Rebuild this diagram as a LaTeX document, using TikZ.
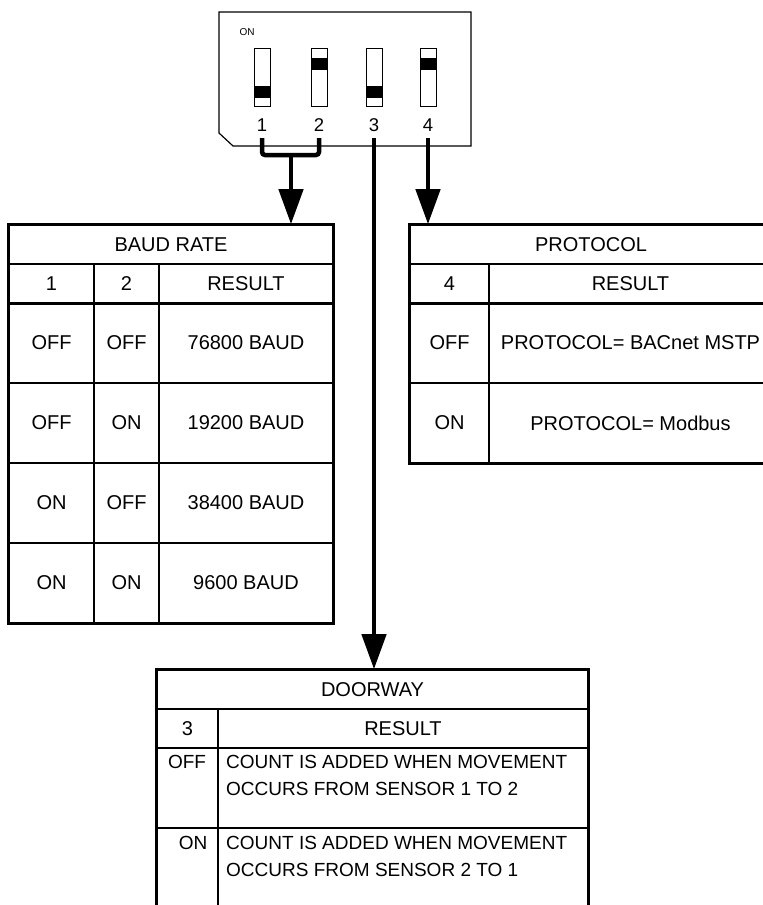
\documentclass[tikz,border=0pt]{standalone}
\usepackage{fontspec}
\setmainfont{Liberation Sans}
\usetikzlibrary{arrows.meta, calc}

\begin{document}
\begin{tikzpicture}[
        x=1pt, y=-1pt,
        cell/.style={rectangle, draw=black, line width=1.6pt, inner sep=0pt, font=\fontsize{20}{24}\selectfont},
        hdr/.style={cell, minimum height=39pt},
        datarow/.style={cell, minimum height=80pt},
        tblborder/.style={line width=2.8pt, draw=black},
        slot/.style={rectangle, draw=black, line width=1pt, minimum width=16pt, minimum height=58pt, inner sep=0pt},
        knob/.style={fill=black},
        pin/.style={font=\fontsize{18.5}{20}\selectfont, inner sep=0pt},
        note/.style={font=\fontsize{19}{27}\selectfont, align=left, inner sep=0pt},
        wire/.style={line width=4.5pt, rounded corners=3pt},
        feed/.style={-{Triangle[length=35pt, width=24pt]}}
    ]
        \useasboundingbox (0,0) rectangle (763,905);
        \clip (0,0) rectangle (763,905);

        % ----------------------------------------------------
        % DIP SWITCH
        % ----------------------------------------------------
        \draw[line width=1.2pt] (219,12) -- (471,12) -- (471,146) -- (233,146) -- (219,133) -- cycle;
        \node[font=\fontsize{10}{12}\selectfont, inner sep=0pt] (onlabel) at (247,32) {ON};

        \node[slot] (s1) at (262,77) {};
        \node[slot] (s2) at (319,77) {};
        \node[slot] (s3) at (374,77) {};
        \node[slot] (s4) at (428,77) {};
        \fill[knob] ([yshift=9pt]s1.south west) rectangle ++(16,-12);
        \fill[knob] ([yshift=-10pt]s2.north west) rectangle ++(16,12);
        \fill[knob] ([yshift=9pt]s3.south west) rectangle ++(16,-12);
        \fill[knob] ([yshift=-10pt]s4.north west) rectangle ++(16,12);

        \node[pin] (n1) at (262,125) {1};
        \node[pin] (n2) at (319,125) {2};
        \node[pin] (n3) at (374,125) {3};
        \node[pin] (n4) at (428,125) {4};

        % ----------------------------------------------------
        % BAUD RATE TABLE (Left)
        % ----------------------------------------------------
        \node[hdr, minimum width=324pt] (baudtitle) at (171,244.5) {BAUD RATE};
        \node[hdr, minimum width=85pt] (baudh1) at (51.5,283.5) {1};
        \node[hdr, minimum width=65pt] (baudh2) at (126.5,283.5) {2};
        \node[hdr, minimum width=174pt] (baudres) at (246,283.5) {RESULT};

        \node[datarow, minimum width=85pt] (b1a) at (51.5,343) {OFF};
        \node[datarow, minimum width=65pt] (b1b) at (126.5,343) {OFF};
        \node[datarow, minimum width=174pt] (b1c) at (246,343) {76800 BAUD};

        \node[datarow, minimum width=85pt] (b2a) at (51.5,423) {OFF};
        \node[datarow, minimum width=65pt] (b2b) at (126.5,423) {ON};
        \node[datarow, minimum width=174pt] (b2c) at (246,423) {19200 BAUD};

        \node[datarow, minimum width=85pt] (b3a) at (51.5,503) {ON};
        \node[datarow, minimum width=65pt] (b3b) at (126.5,503) {OFF};
        \node[datarow, minimum width=174pt] (b3c) at (246,503) {38400 BAUD};

        \node[datarow, minimum width=85pt] (b4a) at (51.5,583) {ON};
        \node[datarow, minimum width=65pt] (b4b) at (126.5,583) {ON};
        \node[datarow, minimum width=174pt] (b4c) at (246,583) {9600 BAUD};

        \draw[tblborder] (baudh1.south west) -- (baudres.south east);
        \draw[tblborder] (baudtitle.north west) rectangle (b4c.south east);

        % ----------------------------------------------------
        % PROTOCOL TABLE (Right)
        % ----------------------------------------------------
        \node[hdr, minimum width=362pt] (prottitle) at (591,244.5) {PROTOCOL};
        \node[hdr, minimum width=79pt] (proth4) at (449.5,283.5) {4};
        \node[hdr, minimum width=283pt] (protres) at (630.5,283.5) {RESULT};

        \node[datarow, minimum width=79pt] (p1a) at (449.5,343) {OFF};
        \node[datarow, minimum width=283pt] (p1b) at (630.5,343) {PROTOCOL= BACnet MSTP};
        \node[datarow, minimum width=79pt] (p2a) at (449.5,423) {ON};
        \node[datarow, minimum width=283pt] (p2b) at (630.5,423) {PROTOCOL= Modbus};

        \draw[tblborder] (proth4.south west) -- (protres.south east);
        \draw[tblborder] (prottitle.north west) rectangle (p2b.south east);

        % ----------------------------------------------------
        % DOORWAY TABLE (Bottom)
        % ----------------------------------------------------
        \node[hdr, minimum width=431pt] (doortitle) at (372.5,689.5) {DOORWAY};
        \node[hdr, minimum width=61pt] (doorh3) at (187.5,728.5) {3};
        \node[hdr, minimum width=370pt] (doorres) at (403,728.5) {RESULT};

        \node[datarow, minimum width=61pt] (d1a) at (187.5,788) {};
        \node[datarow, minimum width=370pt] (d1b) at (403,788) {};
        \node[datarow, minimum width=61pt] (d2a) at (187.5,868) {};
        \node[datarow, minimum width=370pt] (d2b) at (403,868) {};

        \node[note] (d1state) at (187,762) {OFF};
        \node[note, anchor=north west] (d1text) at (226,755.5) {COUNT IS ADDED WHEN MOVEMENT\\OCCURS FROM SENSOR 1 TO 2};
        \node[note] (d2state) at (193,843) {ON};
        \node[note, anchor=north west] (d2text) at (226,836) {COUNT IS ADDED WHEN MOVEMENT\\OCCURS FROM SENSOR 2 TO 1};

        \draw[tblborder] (doortitle.north west) rectangle (d2b.south east);

        % ----------------------------------------------------
        % SWITCH TO TABLE CONNECTIONS
        % ----------------------------------------------------
        \coordinate (t1) at (262,138);
        \coordinate (t2) at (319,138);
        \coordinate (t3) at (374,138);
        \coordinate (t4) at (428,138);
        \coordinate (brk) at (291,155);

        % Switches 1+2 to baud rate
        \draw[wire] (t1) |- (brk) -| (t2);
        \draw[wire, feed] (brk) -- (brk |- baudtitle.north);

        % Switch 3 to doorway
        \draw[wire, feed] (t3) -- (t3 |- doortitle.north);

        % Switch 4 to protocol
        \draw[wire, feed] (t4) -- (t4 |- prottitle.north);

    \end{tikzpicture}
\end{document}
